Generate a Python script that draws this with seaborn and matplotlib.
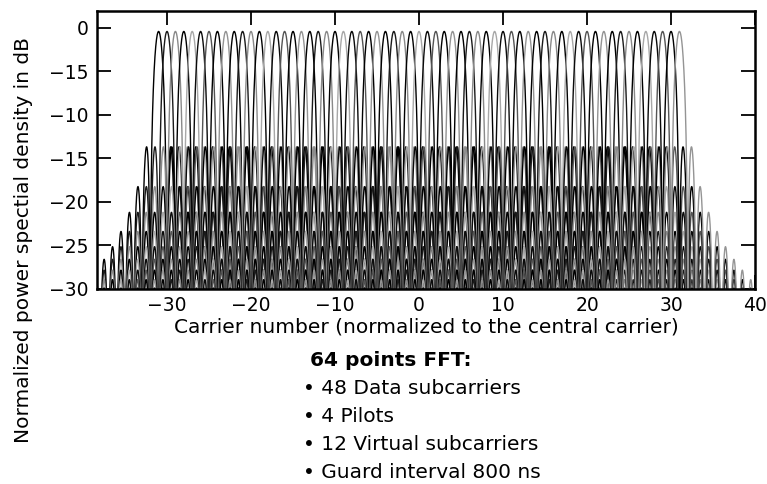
import numpy as np
import pandas as pd
import matplotlib
matplotlib.use("Agg")
import matplotlib.pyplot as plt
import seaborn as sns

# Subcarrier centre positions (carrier numbers) and their peak level in dB
carriers = [-31, -30, -29, -28, -27, -26, -25, -24, -23, -22, -21, -20, -19,
            -18, -17, -16, -15, -14, -13, -12, -11, -10, -9, -8, -7, -6, -5,
            -4, -3, -2, -1, 0, 1, 2, 3, 4, 5, 6, 7, 8, 9, 10, 11, 12, 13, 14,
            15, 16, 17, 18, 19, 20, 21, 22, 23, 24, 25, 26, 27, 28, 29, 30, 31]
peak_db = [-0.4] * len(carriers)
floor_db = -30.0

x_ticks = [-30, -20, -10, 0, 10, 20, 30, 40]
x_tick_labels = ["\u221230", "\u221220", "\u221210", "0", "10", "20", "30", "40"]
y_ticks = [0, -5, -10, -15, -20, -25, -30]
y_tick_labels = ["0", "\u221215", "\u221210", "\u221215", "\u221220", "\u221225", "\u221230"]

x_label = "Carrier number (normalized to the central carrier)"
y_label = "Normalized power spectial density in dB"
fft_title = "64 points FFT:"
fft_items = ["\u2022 48 Data subcarriers", "\u2022 4 Pilots",
             "\u2022 12 Virtual subcarriers", "\u2022 Guard interval 800 ns"]

# Power spectrum of each subcarrier: sinc^2 shape around its centre
offsets = np.linspace(-12, 12, 4801)
frames = []
for k, pk in zip(carriers, peak_db):
    p = np.sinc(offsets) ** 2
    db = pk + 10 * np.log10(np.maximum(p, 1e-8))
    db = np.maximum(db, floor_db - 5)
    frames.append(pd.DataFrame({"f": k + offsets, "psd": db, "carrier": k}))
df = pd.concat(frames, ignore_index=True)

shades = ["#000000", "#1a1a1a", "#8a8a8a", "#000000", "#a8a8a8",
          "#0a0a0a", "#555555", "#000000", "#949494"]
palette = {k: shades[i % len(shades)] for i, k in enumerate(carriers)}

sns.set_theme(style="ticks")
plt.rcParams["font.family"] = ["DejaVu Sans"]

fig = plt.figure(figsize=(7.67, 4.84), dpi=100)
ax = fig.add_axes([0.1265, 0.4029, 0.9844 - 0.1265, 0.9773 - 0.4029])

sns.lineplot(data=df, x="f", y="psd", hue="carrier", palette=palette,
             estimator=None, sort=False, legend=False, linewidth=1.0, ax=ax)

ax.set_xlim(-38.33, 40)
ax.set_ylim(-30, 1.95)
ax.set_xticks(x_ticks)
ax.set_xticklabels(x_tick_labels)
ax.set_yticks(y_ticks)
ax.set_yticklabels(y_tick_labels)
ax.tick_params(direction="in", length=10, width=1.3, labelsize=13.5,
               top=True, right=True, pad=6, colors="black")
ax.tick_params(axis="x", pad=5)
for s in ax.spines.values():
    s.set_linewidth(1.8)
    s.set_color("black")

ax.set_xlabel(x_label, fontsize=14.5, labelpad=2, color="black")
ax.set_ylabel("")
fig.text(0.031, 0.504, y_label, rotation=90, ha="center", va="center",
         fontsize=14.5, color="black")

fig.text(0.404, 1 - 361 / 484, fft_title, fontsize=14.5, fontweight="bold",
         ha="left", va="center", color="black")
for i, item in enumerate(fft_items):
    fig.text(0.395, 1 - (389 + 28 * i) / 484, item, fontsize=14.5,
             ha="left", va="center", color="black")

fig.savefig("out.png", dpi=100, facecolor="white")
